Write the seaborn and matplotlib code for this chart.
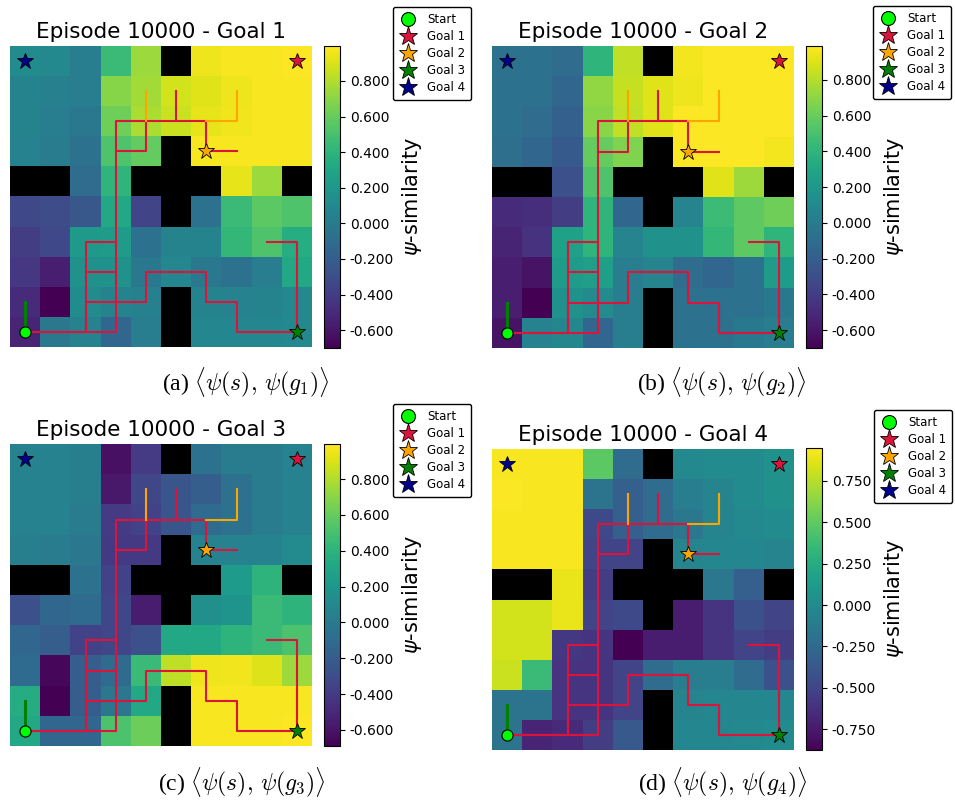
import numpy as np
import pandas as pd
import matplotlib
matplotlib.use("Agg")
import matplotlib.pyplot as plt
import seaborn as sns
from matplotlib.lines import Line2D

X = np.nan  # wall cells

# psi-similarity per grid cell (rows top->bottom, cols left->right)
psi_goal1 = [
    [0.11, 0.10, 0.01, 0.45, 0.74, X, 0.95, 0.98, 0.98, 0.99],
    [0.06, 0.03, 0.01, 0.69, 0.76, 0.88, 0.91, 0.95, 0.98, 0.98],
    [0.06, 0.01, -0.02, 0.62, 0.78, 0.86, 0.93, 0.96, 0.98, 0.98],
    [0.05, 0.00, -0.06, 0.52, 0.59, X, 0.98, 0.98, 0.98, 0.98],
    [X, X, -0.11, 0.40, X, X, X, 0.93, 0.74, X],
    [-0.33, -0.31, -0.24, 0.32, -0.36, X, -0.06, 0.45, 0.57, 0.52],
    [-0.40, -0.33, 0.22, 0.23, -0.06, 0.06, 0.06, 0.42, 0.52, 0.35],
    [-0.43, -0.56, 0.15, 0.15, -0.02, 0.08, -0.02, -0.06, 0.01, 0.32],
    [-0.50, -0.70, 0.11, 0.06, 0.03, X, 0.06, 0.05, 0.06, 0.10],
    [-0.53, -0.02, 0.05, -0.14, 0.01, X, 0.08, 0.08, 0.08, 0.10],
]
psi_goal2 = [
    [-0.06, -0.06, -0.11, 0.40, 0.83, X, 0.96, 0.98, 0.98, 0.99],
    [-0.07, -0.07, -0.14, 0.71, 0.84, 0.91, 0.95, 0.98, 0.98, 0.98],
    [-0.07, -0.11, -0.19, 0.69, 0.83, 0.91, 0.98, 0.98, 0.98, 0.98],
    [-0.09, -0.14, -0.23, 0.59, 0.66, X, 0.98, 0.98, 0.98, 0.96],
    [X, X, -0.29, 0.52, X, X, X, 0.91, 0.74, X],
    [-0.50, -0.48, -0.40, 0.40, -0.14, X, 0.06, 0.45, 0.57, 0.62],
    [-0.53, -0.46, 0.27, 0.40, 0.06, 0.15, 0.15, 0.42, 0.57, 0.40],
    [-0.56, -0.62, 0.23, 0.25, 0.01, 0.06, -0.11, -0.14, -0.07, 0.23],
    [-0.56, -0.70, 0.15, 0.10, 0.01, X, -0.06, -0.07, -0.06, -0.02],
    [-0.62, 0.05, 0.08, -0.14, 0.01, X, -0.07, -0.07, -0.02, 0.01],
]
psi_goal3 = [
    [0.06, 0.06, 0.03, -0.62, -0.40, X, -0.06, 0.01, 0.01, 0.05],
    [0.06, 0.05, 0.03, -0.58, -0.33, -0.24, -0.19, -0.07, 0.01, 0.06],
    [0.06, 0.05, 0.01, -0.40, -0.36, -0.24, -0.11, -0.06, 0.01, 0.06],
    [0.03, 0.01, -0.02, -0.41, -0.41, X, 0.06, 0.06, 0.06, 0.11],
    [X, X, -0.06, -0.36, X, X, X, 0.23, 0.40, X],
    [-0.28, -0.14, -0.11, -0.33, -0.56, X, 0.15, 0.18, 0.45, 0.40],
    [-0.14, -0.19, -0.36, -0.33, -0.28, 0.32, 0.32, 0.40, 0.45, 0.52],
    [-0.11, -0.66, -0.19, -0.11, 0.45, 0.83, 0.95, 0.96, 0.91, 0.74],
    [0.35, -0.69, -0.19, -0.02, 0.32, X, 0.98, 0.98, 0.98, 0.98],
    [0.32, -0.14, -0.14, 0.52, 0.62, X, 0.98, 0.98, 0.98, 0.99],
]
psi_goal4 = [
    [0.93, 0.93, 0.93, 0.49, -0.24, X, -0.02, 0.00, 0.00, 0.04],
    [0.94, 0.93, 0.93, -0.18, -0.33, -0.24, -0.11, -0.05, 0.00, 0.04],
    [0.93, 0.93, 0.93, -0.47, -0.33, -0.24, -0.15, -0.05, -0.02, 0.00],
    [0.93, 0.93, 0.93, -0.51, -0.51, X, -0.05, -0.04, -0.04, -0.05],
    [X, X, 0.89, -0.55, X, X, X, -0.15, -0.33, X],
    [0.82, 0.82, 0.89, -0.51, -0.47, X, -0.73, -0.60, -0.42, -0.51],
    [0.82, 0.82, -0.58, -0.60, -0.87, -0.73, -0.73, -0.60, -0.51, -0.55],
    [0.80, 0.36, -0.60, -0.60, -0.51, -0.24, -0.11, -0.11, -0.24, -0.42],
    [-0.18, -0.18, -0.60, -0.60, -0.51, X, -0.05, -0.04, -0.04, -0.04],
    [-0.18, -0.69, -0.66, -0.55, -0.37, X, -0.04, -0.04, -0.02, 0.00],
]
grids = [psi_goal1, psi_goal2, psi_goal3, psi_goal4]
color_ranges = [(-0.70, 0.996), (-0.70, 0.99), (-0.69, 0.996), (-0.875, 0.9475)]
cbar_ticks = [
    [-0.6, -0.4, -0.2, 0.0, 0.2, 0.4, 0.6, 0.8],
    [-0.6, -0.4, -0.2, 0.0, 0.2, 0.4, 0.6, 0.8],
    [-0.6, -0.4, -0.2, 0.0, 0.2, 0.4, 0.6, 0.8],
    [-0.75, -0.5, -0.25, 0.0, 0.25, 0.5, 0.75],
]
titles = ["Episode 10000 - Goal 1", "Episode 10000 - Goal 2",
          "Episode 10000 - Goal 3", "Episode 10000 - Goal 4"]
captions = [r"(a) $\langle\psi(s),\,\psi(g_1)\rangle$",
            r"(b) $\langle\psi(s),\,\psi(g_2)\rangle$",
            r"(c) $\langle\psi(s),\,\psi(g_3)\rangle$",
            r"(d) $\langle\psi(s),\,\psi(g_4)\rangle$"]

# start / goals as (col, row)
start_cell = (0, 9)
start_action = [(0, 9), (0, 8)]
goal_cells = [(9, 0), (6, 3), (9, 9), (0, 0)]
goal_names = ["Goal 1", "Goal 2", "Goal 3", "Goal 4"]
goal_colors = ["crimson", "orange", "green", "darkblue"]

# trajectory segments as (col, row) waypoints
red_paths = [
    [(0, 9), (2, 9), (2, 8), (4, 8), (4, 7), (6, 7), (6, 8), (7, 8), (7, 9), (9, 9), (9, 6), (8, 6)],
    [(0, 9), (3, 9), (3, 2), (6, 2), (6, 3), (7, 3)],
    [(2, 9), (2, 6), (3, 6)],
    [(2, 7), (3, 7)],
    [(3, 3), (4, 3), (4, 2)],
    [(5, 2), (5, 1)],
]
orange_paths = [
    [(4, 2), (4, 1)],
    [(6, 2), (7, 2), (7, 1)],
]

fig = plt.figure(figsize=(9.55, 8.01), dpi=100)
W, H = 955, 801

def frac(x0, y0, w, h):
    return [x0 / W, 1 - (y0 + h) / H, w / W, h / H]

# pixel boxes: heatmap, colorbar, legend anchor, caption centre
heat_boxes = [(10, 46, 302, 301), (492, 46, 302, 302), (10, 444, 302, 302), (492, 449, 302, 301)]
cbar_boxes = [(324, 46, 16, 302), (806, 46, 16, 302), (324, 444, 16, 302), (806, 448, 16, 302)]
legend_anchor = [(393, 7), (873, 6), (393, 404), (874, 410)]
caption_pos = [(246, 382), (722, 382), (242, 782), (723, 782)]

for k in range(4):
    ax = fig.add_axes(frac(*heat_boxes[k]))
    cax = fig.add_axes(frac(*cbar_boxes[k]))
    ax.set_facecolor("black")
    vmin, vmax = color_ranges[k]
    df = pd.DataFrame(grids[k])
    sns.heatmap(df, ax=ax, cbar_ax=cax, cmap="viridis", vmin=vmin, vmax=vmax,
                xticklabels=False, yticklabels=False,
                cbar_kws={"format": "%.3f", "ticks": cbar_ticks[k]})
    cb = ax.collections[0].colorbar
    cb.outline.set_linewidth(0.8)
    cb.outline.set_edgecolor("black")
    cb.ax.tick_params(labelsize=10)
    cb.set_label(r"$\psi$-similarity", fontsize=15)

    for path in red_paths:
        xs = [c + 0.5 for c, r in path]
        ys = [r + 0.5 for c, r in path]
        ax.plot(xs, ys, color="crimson", lw=1.5, zorder=3)
    for path in orange_paths:
        xs = [c + 0.5 for c, r in path]
        ys = [r + 0.5 for c, r in path]
        ax.plot(xs, ys, color="orange", lw=1.5, zorder=3)
    ax.plot([c + 0.5 for c, r in start_action], [r + 0.5 for c, r in start_action],
            color="green", lw=2.2, zorder=4)

    ax.plot(start_cell[0] + 0.5, start_cell[1] + 0.5, "o", color="lime",
            mec="black", mew=0.8, ms=8, zorder=5)
    for (c, r), col in zip(goal_cells, goal_colors):
        ax.plot(c + 0.5, r + 0.5, "*", color=col, mec="black", mew=0.6,
                ms=12, zorder=5)

    ax.set_title(titles[k], fontsize=15.5)

    handles = [Line2D([], [], ls="none", marker="o", color="lime", mec="black",
                      mew=0.8, ms=10, label="Start")]
    for name, col in zip(goal_names, goal_colors):
        handles.append(Line2D([], [], ls="none", marker="*", color=col, mec="black",
                              mew=0.6, ms=14, label=name))
    lx, ly = legend_anchor[k]
    leg = fig.legend(handles=handles, loc="upper left",
                     bbox_to_anchor=(lx / W, 1 - ly / H), fontsize=8.5,
                     framealpha=1, borderaxespad=0, handlelength=1.5,
                     labelspacing=0.35, borderpad=0.5, handletextpad=0.9)
    leg.get_frame().set_edgecolor("black")

    cx, cy = caption_pos[k]
    t = fig.text(cx / W, 1 - cy / H, captions[k], ha="center", va="center",
                 fontsize=17, family="Liberation Serif")
    t.set_math_fontfamily("cm")

fig.savefig("out.png", dpi=100)
